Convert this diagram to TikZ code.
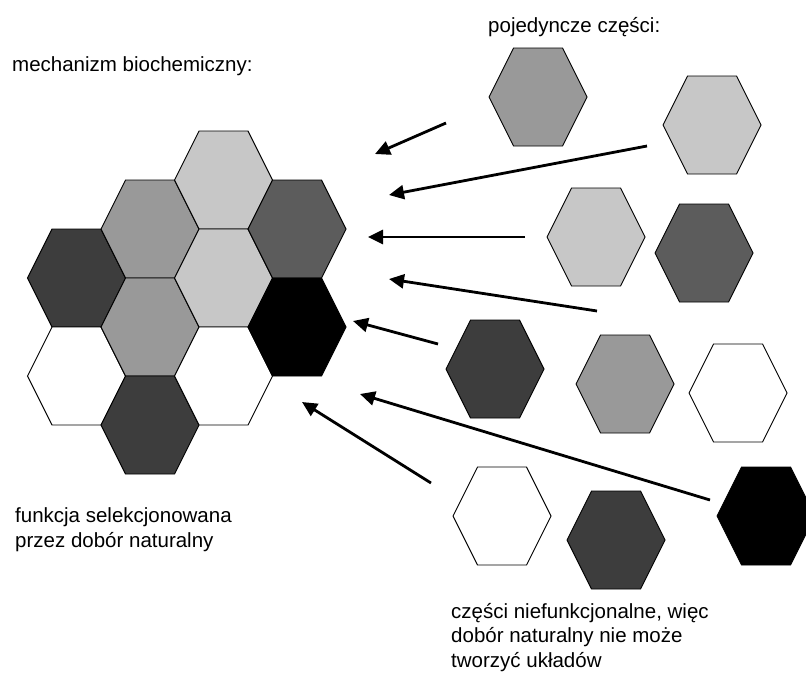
\documentclass[tikz,border=0pt]{standalone}
\usepackage{fontspec}
\setmainfont{Liberation Sans}
\usetikzlibrary{arrows.meta}
\definecolor{jasny}{gray}{0.78}
\definecolor{sredni}{gray}{0.6}
\definecolor{ciemny}{gray}{0.36}
\definecolor{bciemny}{gray}{0.24}
\tikzset{
  brzeg/.style={draw=black,line width=0.9pt,line join=miter},
  strz/.style={line width=2.8pt,-{Triangle[length=15pt,width=14pt]}},
  opis/.style={anchor=base west,inner sep=0pt,align=left},
  pics/szesc/.style={code={
    \path[brzeg,fill=#1] (-49,0) -- (-24.5,-49) -- (24.5,-49) -- (49,0)
      -- (24.5,49) -- (-24.5,49) -- cycle;}},
}

\begin{document}
\begin{tikzpicture}[x=1pt,y=-1pt,font=\fontsize{20.5}{24.5}\selectfont]
  \useasboundingbox (0,0) rectangle (806,675);
  \clip (0,0) rectangle (806,675);
  % mechanizm biochemiczny
  \pic at (76.5,278) {szesc=bciemny};
  \pic at (76.5,376) {szesc=white};
  \pic at (150,229) {szesc=sredni};
  \pic at (150,327) {szesc=sredni};
  \pic at (150,425) {szesc=bciemny};
  \pic at (223.5,180) {szesc=jasny};
  \pic at (223.5,278) {szesc=jasny};
  \pic at (223.5,376) {szesc=white};
  \pic at (297,229) {szesc=ciemny};
  \pic at (297,327) {szesc=black};
  % pojedyncze czesci
  \pic at (538,97) {szesc=sredni};
  \pic at (712,125) {szesc=jasny};
  \pic at (596,237) {szesc=jasny};
  \pic at (704,253) {szesc=ciemny};
  \pic at (495,369) {szesc=bciemny};
  \pic at (625,384) {szesc=sredni};
  \pic at (738,393) {szesc=white};
  \pic at (502,516) {szesc=white};
  \pic at (616,540) {szesc=bciemny};
  \pic at (766,516) {szesc=black};
  % strzalki
  \coordinate (o1) at (446,123); \coordinate (d1) at (375,154);
  \coordinate (o2) at (647,146); \coordinate (d2) at (389,195);
  \coordinate (o3) at (525,237); \coordinate (d3) at (368,237);
  \coordinate (o4) at (597,311); \coordinate (d4) at (389,279);
  \coordinate (o5) at (438,344); \coordinate (d5) at (353,321);
  \coordinate (o6) at (710,500); \coordinate (d6) at (360,394);
  \coordinate (o7) at (431,483); \coordinate (d7) at (302,402);
  \foreach \i in {1,...,7}
    \draw[strz] (o\i) -- (d\i);
  % opisy (base = ostatnia linia)
  \node[opis] (mech) at (12,71) {mechanizm biochemiczny:};
  \node[opis] (poj) at (488,32) {pojedyncze części:};
  \node[opis] (funkcja) at (15,547) {funkcja selekcjonowana\\przez dobór naturalny};
  \node[opis] (czesci) at (451,667) {części niefunkcjonalne, więc\\dobór naturalny nie może\\tworzyć układów};
\end{tikzpicture}
\end{document}
